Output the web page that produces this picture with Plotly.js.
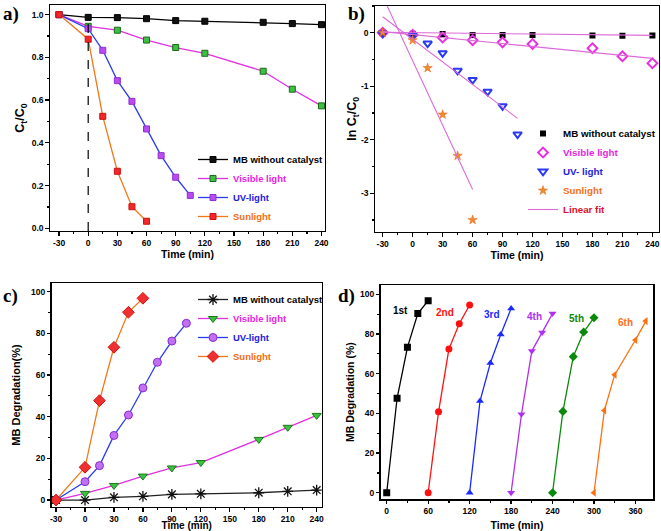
<!DOCTYPE html>
<html>
<head>
<meta charset="utf-8">
<script src="https://cdn.plot.ly/plotly-3.0.1.min.js"></script>
<style>html,body{margin:0;padding:0;background:#fff;overflow:hidden}#chart{width:661px;height:531px}</style>
</head>
<body>
<div id="chart"></div>
<script>
// ---------- data ----------
const timeFull = [-30, 0, 30, 60, 90, 120, 180, 210, 240];
const timeUV = [-30, 0, 15, 30, 45, 60, 75, 90, 105];
const timeSun = [-30, 0, 15, 30, 45, 60];

// (a) Ct/C0
const aMB  = [1.0, 0.987, 0.986, 0.981, 0.972, 0.969, 0.964, 0.958, 0.953];
const aVis = [1.0, 0.945, 0.927, 0.881, 0.846, 0.819, 0.735, 0.651, 0.573];
const aUV  = [1.0, 0.934, 0.833, 0.691, 0.594, 0.465, 0.340, 0.239, 0.154];
const aSun = [1.0, 0.885, 0.524, 0.267, 0.101, 0.033];

// (b) ln Ct/C0
const bMB  = [0, -0.02, -0.025, -0.04, -0.04, -0.04, -0.05, -0.055, -0.05];
const bVis = [0, -0.04, -0.09, -0.14, -0.18, -0.21, -0.29, -0.44, -0.57];
const bUV  = [-0.01, -0.06, -0.2, -0.38, -0.71, -0.88, -1.1, -1.37, -1.9];
const bSun = [0, -0.14, -0.66, -1.53, -2.30, -3.5];
const fitX = [-30, 240, null, -30, 240, null, -30, 105, null, -30, 60];
const fitY = [0.01, -0.05, null, 0.02, -0.48, null, 0.30, -1.6, null, 0.68, -2.93];

// (c) MB degradation (%)
const cMB  = [0, 0, 1.3, 1.8, 2.7, 3.0, 3.5, 4.2, 4.8];
const cVis = [0, 3.2, 7.0, 11.5, 15.4, 18.0, 29.1, 34.9, 40.6];
const cUV  = [0, 8.8, 16.5, 31.0, 40.8, 53.8, 66.1, 76.3, 84.8];
const cSun = [0, 15.7, 47.7, 73.3, 90.1, 96.8];

// (d) recycling
const cycleNames = ['1st', '2nd', '3rd', '4th', '5th', '6th'];
const cycleTimes = [
  [0, 15, 30, 45, 60],
  [60, 75, 90, 105, 120],
  [120, 135, 150, 165, 180],
  [180, 195, 210, 225, 240],
  [240, 255, 270, 285, 300],
  [300, 315, 330, 360, 375]
];
const cycleValues = [
  [0, 47.6, 73.3, 90.3, 96.8],
  [0, 40.8, 72.4, 85.2, 94.6],
  [0, 46.2, 65.4, 79.8, 92.8],
  [0, 39.5, 71.4, 80.7, 90.3],
  [0, 41.0, 68.6, 81.0, 88.2],
  [0, 41.5, 59.5, 77.0, 86.5]
];

const seriesNames = ['MB without catalyst', 'Visible light', 'UV-light', 'Sunlight'];
const seriesNamesB = ['MB without catalyst', 'Visible light', 'UV- light', 'Sunlight', 'Linear fit'];
const timeTicks = [-30, 0, 30, 60, 90, 120, 150, 180, 210, 240];
const timeTickText = ['-30', '0', '30', '60', '90', '120', '150', '180', '210', '240'];
const lnTicks = [0, -1, -2, -3];
const lnTickText = ['0', '-1', '-2', '-3'];

// ---------- styles ----------
const FONT = 'Liberation Sans, Arial, sans-serif';
const textCol = ['#000000', '#e81ee0', '#2222dd', '#f07018'];
const W = 661, H = 531;
const px = v => v / W;
const py = v => 1 - v / H;
const colored = (t, c) => '<span style="color:' + c + '">' + t + '</span>';

const traces = [];
// (a)
traces.push({x: timeFull, y: aMB, xaxis: 'x', yaxis: 'y', legend: 'legend', name: colored(seriesNames[0], textCol[0]),
  mode: 'lines+markers', line: {color: '#000', width: 1.3}, marker: {symbol: 'square', size: 6, color: '#111', line: {color: '#000', width: 1}}});
traces.push({x: timeFull, y: aVis, xaxis: 'x', yaxis: 'y', legend: 'legend', name: colored(seriesNames[1], textCol[1]),
  mode: 'lines+markers', line: {color: '#e030e0', width: 1.3}, marker: {symbol: 'square', size: 6, color: '#3cc040', line: {color: '#1a6a1a', width: 1}}});
traces.push({x: timeUV, y: aUV, xaxis: 'x', yaxis: 'y', legend: 'legend', name: colored(seriesNames[2], textCol[2]),
  mode: 'lines+markers', line: {color: '#2a3cf0', width: 1.3}, marker: {symbol: 'square', size: 6, color: '#b84cf0', line: {color: '#9030d0', width: 1}}});
traces.push({x: timeSun, y: aSun, xaxis: 'x', yaxis: 'y', legend: 'legend', name: colored(seriesNames[3], textCol[3]),
  mode: 'lines+markers', line: {color: '#f07818', width: 1.3}, marker: {symbol: 'square', size: 6, color: '#f02828', line: {color: '#d01010', width: 1}}});

// (b)
traces.push({x: timeFull, y: bMB, xaxis: 'x2', yaxis: 'y2', legend: 'legend2', name: colored(seriesNamesB[0], '#000'),
  mode: 'markers', marker: {symbol: 'square', size: 6, color: '#000'}});
traces.push({x: timeFull, y: bVis, xaxis: 'x2', yaxis: 'y2', legend: 'legend2', name: colored(seriesNamesB[1], '#e81ee0'),
  mode: 'markers', marker: {symbol: 'diamond-open', size: 7.5, color: '#e830e0', line: {width: 2}}});
traces.push({x: timeUV, y: bUV, xaxis: 'x2', yaxis: 'y2', legend: 'legend2', name: colored(seriesNamesB[2], '#2222dd'),
  mode: 'markers', marker: {symbol: 'triangle-down-open', size: 7.5, color: '#2a3af0', line: {width: 2}}});
traces.push({x: timeSun, y: bSun, xaxis: 'x2', yaxis: 'y2', legend: 'legend2', name: colored(seriesNamesB[3], '#f07018'),
  mode: 'markers', marker: {symbol: 'star', size: 7, color: '#f08a30', line: {color: '#e06010', width: 0.5}}});
traces.push({x: fitX, y: fitY, xaxis: 'x2', yaxis: 'y2', legend: 'legend2', name: colored(seriesNamesB[4], '#e0102a'),
  mode: 'lines', line: {color: '#dc6ad8', width: 1.1}});

// (c)
traces.push({x: timeFull, y: cMB, xaxis: 'x3', yaxis: 'y3', legend: 'legend3', name: colored(seriesNames[0], '#000'),
  mode: 'lines+markers', line: {color: '#222', width: 1.3}, marker: {symbol: 'asterisk-open', size: 9, color: '#111', line: {color: '#111', width: 1.3}}});
traces.push({x: timeFull, y: cVis, xaxis: 'x3', yaxis: 'y3', legend: 'legend3', name: colored(seriesNames[1], '#e81ee0'),
  mode: 'lines+markers', line: {color: '#e030e0', width: 1.3}, marker: {symbol: 'triangle-down', size: 8, color: '#3cc040', line: {color: '#1a7a1a', width: 1}}});
traces.push({x: timeUV, y: cUV, xaxis: 'x3', yaxis: 'y3', legend: 'legend3', name: colored(seriesNames[2], '#2222dd'),
  mode: 'lines+markers', line: {color: '#2a3cf0', width: 1.3}, marker: {symbol: 'circle', size: 8, color: '#c070f0', line: {color: '#8a2ad0', width: 1}}});
traces.push({x: timeSun, y: cSun, xaxis: 'x3', yaxis: 'y3', legend: 'legend3', name: colored(seriesNames[3], '#f07018'),
  mode: 'lines+markers', line: {color: '#f07818', width: 1.3}, marker: {symbol: 'diamond', size: 9, color: '#f03030', line: {color: '#d01010', width: 1}}});

// (d)
const cycColors = ['#000000', '#ff1010', '#1a2aff', '#b030f0', '#0a8a0a', '#ff7010'];
const cycSymbols = ['square', 'circle', 'triangle-up', 'triangle-down', 'diamond', 'triangle-left'];
cycleNames.forEach((nm, i) => {
  traces.push({x: cycleTimes[i], y: cycleValues[i], xaxis: 'x4', yaxis: 'y4', name: nm, showlegend: false,
    mode: 'lines+markers', line: {color: cycColors[i], width: 1.3},
    marker: {symbol: cycSymbols[i], size: 7, color: cycColors[i]}});
});

const tickFont = {family: FONT, size: 8.5, color: '#000', weight: 'bold'};
const titleFont = {family: FONT, size: 10.5, color: '#000', weight: 'bold'};
function ax(extra) {
  return Object.assign({
    showline: true, linecolor: '#000', linewidth: 1.3, mirror: true,
    ticks: 'outside', ticklen: 3.5, tickwidth: 1.2, tickcolor: '#000',
    showgrid: false, zeroline: false, tickfont: tickFont, automargin: false,
    minor: {ticks: 'outside', ticklen: 2, tickwidth: 1, tickcolor: '#000', showgrid: false}
  }, extra);
}

const layout = {
  width: W, height: H, autosize: false,
  margin: {l: 0, r: 0, t: 0, b: 0, pad: 0},
  paper_bgcolor: '#fff', plot_bgcolor: '#fff',
  font: {family: FONT, color: '#000'},
  xaxis: ax({domain: [px(50), px(325)], anchor: 'y', range: [-39.3, 243.6], tickvals: timeTicks, ticktext: timeTickText,
    minor: {ticks: 'outside', ticklen: 2, dtick: 15, tick0: 0, tickcolor: '#000'},
    title: {text: 'Time (min)', font: titleFont, standoff: 2}}),
  yaxis: ax({domain: [py(231), py(5)], anchor: 'x', range: [-0.0126, 1.045], dtick: 0.2, tick0: 0, tickformat: '.1f',
    minor: {ticks: 'outside', ticklen: 2, dtick: 0.1, tick0: 0, tickcolor: '#000'},
    title: {text: 'C<sub>t</sub>/C<sub>0</sub>', font: {family: FONT, size: 12.5, weight: 'bold'}, standoff: 4}}),
  xaxis2: ax({domain: [px(375), px(659)], anchor: 'y2', range: [-37.7, 246.6], tickvals: timeTicks, ticktext: timeTickText,
    minor: {ticks: 'outside', ticklen: 2, dtick: 15, tick0: 0, tickcolor: '#000'},
    title: {text: 'Time (min)', font: titleFont, standoff: 0}}),
  yaxis2: ax({domain: [py(231.7), py(6)], anchor: 'x2', range: [-3.72, 0.5], tickvals: lnTicks, ticktext: lnTickText,
    minor: {ticks: 'outside', ticklen: 2, dtick: 0.5, tick0: 0, tickcolor: '#000'},
    title: {text: 'ln C<sub>t</sub>/C<sub>0</sub>', font: {family: FONT, size: 12.5, weight: 'bold'}, standoff: 1}}),
  xaxis3: ax({domain: [px(51.7), px(321.7)], anchor: 'y3', range: [-34.5, 245.2], tickvals: timeTicks, ticktext: timeTickText,
    minor: {ticks: 'outside', ticklen: 2, dtick: 15, tick0: 0, tickcolor: '#000'},
    title: {text: 'Time (min)', font: {family: FONT, size: 10, weight: 'bold'}, standoff: 3}}),
  yaxis3: ax({domain: [py(506.7), py(283.3)], anchor: 'x3', range: [-3.2, 104], dtick: 20, tick0: 0,
    minor: {ticks: 'outside', ticklen: 2, dtick: 10, tick0: 0, tickcolor: '#000'},
    title: {text: 'MB Degradation(%)', font: {family: FONT, size: 11, weight: 'bold'}, standoff: 8}}),
  xaxis4: ax({domain: [px(380.7), px(653.3)], anchor: 'y4', range: [-8.7, 385.8], dtick: 60, tick0: 0,
    minor: {ticks: 'outside', ticklen: 2, dtick: 30, tick0: 0, tickcolor: '#000'},
    title: {text: 'Time (min)', font: titleFont, standoff: 6}}),
  yaxis4: ax({domain: [py(499.3), py(285)], anchor: 'x4', range: [-3.3, 104.7], dtick: 20, tick0: 0,
    minor: {ticks: 'outside', ticklen: 2, dtick: 10, tick0: 0, tickcolor: '#000'},
    title: {text: 'MB Degradation (%)', font: {family: FONT, size: 10.5, weight: 'bold'}, standoff: 3}}),
  legend: {x: px(193), xanchor: 'left', y: py(231), yanchor: 'bottom', bgcolor: 'rgba(0,0,0,0)',
    font: {family: FONT, size: 9.5, weight: 'bold'}, tracegroupgap: 0},
  legend2: {x: px(523), xanchor: 'left', y: py(224), yanchor: 'bottom', bgcolor: 'rgba(0,0,0,0)',
    font: {family: FONT, size: 9.8, weight: 'bold'}, tracegroupgap: 0},
  legend3: {x: px(193), xanchor: 'left', y: py(285), yanchor: 'top', bgcolor: 'rgba(0,0,0,0)',
    font: {family: FONT, size: 9.5, weight: 'bold'}, tracegroupgap: 0},
  shapes: [
    {type: 'line', xref: 'x', yref: 'y domain', x0: 0, x1: 0, y0: 0, y1: 0.955,
      line: {color: '#000', width: 1.2, dash: 'dash'}}
  ],
  annotations: []
};

// panel letters
const panelLetters = ['a)', 'b)', 'c)', 'd)'];
const letterPos = [[1, 14], [346, 14], [1, 296], [336, 296]];
panelLetters.forEach((t, i) => {
  layout.annotations.push({text: t, xref: 'paper', yref: 'paper', x: px(letterPos[i][0]), y: py(letterPos[i][1]),
    xanchor: 'left', yanchor: 'middle', showarrow: false,
    font: {family: 'Liberation Serif, Times New Roman, serif', size: 19, weight: 'bold', color: '#000'}});
});
// cycle labels in (d)
const cycLabelPos = [[20, 92], [85, 91], [153, 90], [214, 89], [275, 88], [345, 86]];
cycleNames.forEach((t, i) => {
  layout.annotations.push({text: t, xref: 'x4', yref: 'y4', x: cycLabelPos[i][0], y: cycLabelPos[i][1],
    showarrow: false, font: {family: FONT, size: 10, weight: 'bold', color: cycColors[i]}});
});

Plotly.newPlot('chart', traces, layout, {displayModeBar: false, staticPlot: true});
</script>
</body>
</html>
